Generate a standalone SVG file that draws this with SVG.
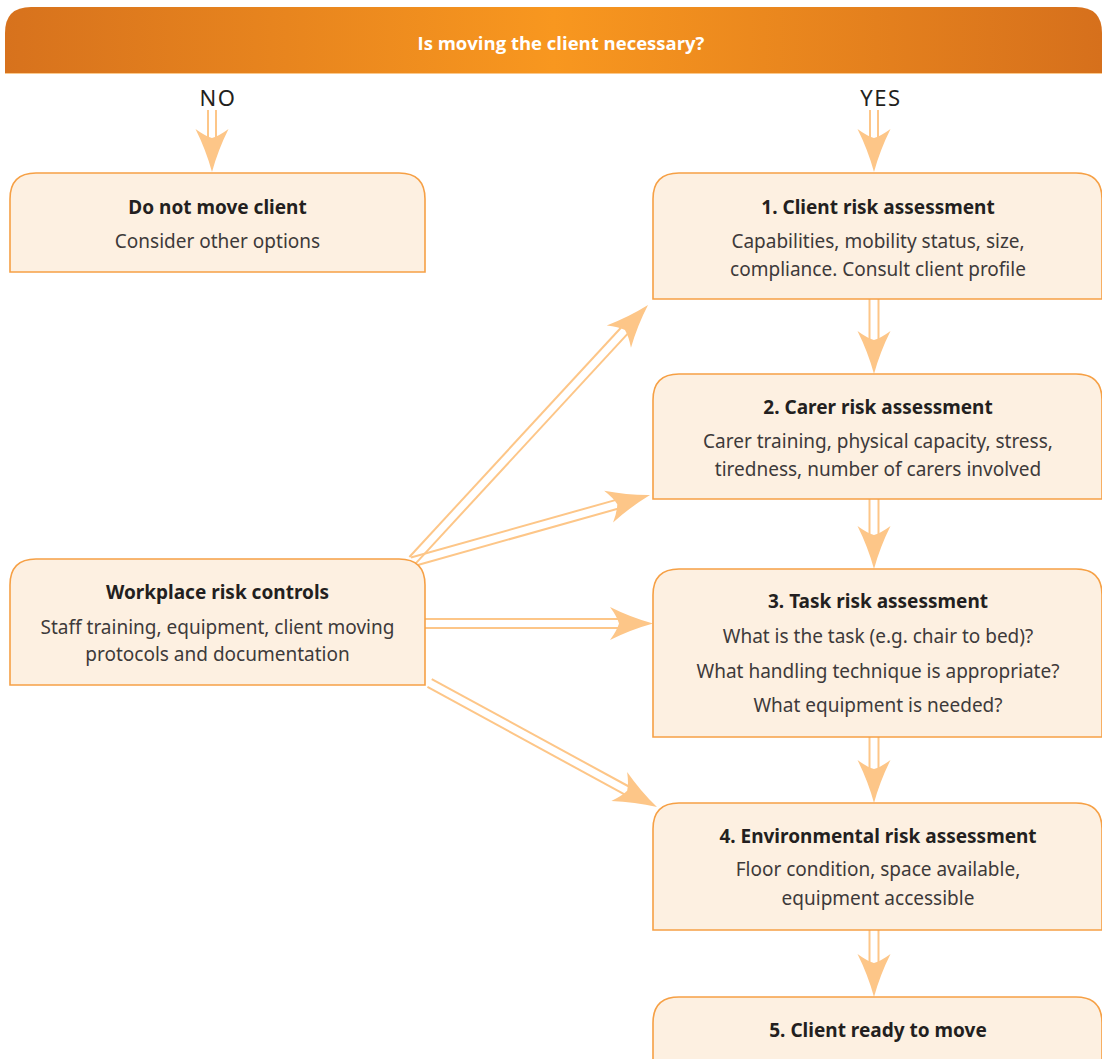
<svg xmlns="http://www.w3.org/2000/svg" xmlns:xlink="http://www.w3.org/1999/xlink" width="1102" height="1059" viewBox="0 0 1102 1059">
  <defs>
    <linearGradient id="hdrGrad" x1="0" y1="0" x2="1" y2="0">
      <stop offset="0" stop-color="#d7721d"/>
      <stop offset="0.5" stop-color="#f8971f"/>
      <stop offset="1" stop-color="#d6701c"/>
    </linearGradient>
    <!-- arrowhead: tip at origin, pointing along +x -->
    <path id="head" d="M0,0 Q-22,-6 -43,-16.5 Q-36,-7 -34,0 Q-36,7 -43,16.5 Q-22,6 0,0 Z" fill="#fdc688"/>
    <style>
      .box { fill: #fdf0e1; stroke: #f6a045; stroke-width: 1.6; }
      .title { font-family: "Noto Sans", "Open Sans", sans-serif; font-weight: 700; font-size: 19px; fill: #231f20; text-anchor: middle; }
      .body { font-family: "Noto Sans", "Open Sans", sans-serif; font-weight: 400; font-size: 19px; fill: #3d3a3a; text-anchor: middle; }
      .lbl { font-family: "Noto Sans", "Open Sans", sans-serif; font-size: 22px; letter-spacing: 1.5px; fill: #231f20; text-anchor: middle; }
      .hdr { font-family: "Open Sans", "Noto Sans", sans-serif; font-weight: 700; font-size: 18.5px; fill: #ffffff; text-anchor: middle; }
      .rail { stroke: #fdc688; stroke-width: 2; fill: none; }
    </style>
  </defs>

  <rect width="1102" height="1059" fill="#ffffff"/>

  <!-- question banner -->
  <g id="question">
    <path d="M5,73 L5,33 Q5,7 31,7 L1076,7 Q1102,7 1102,33 L1102,73 Z" fill="url(#hdrGrad)"/>
    <line x1="5" y1="73.5" x2="1102" y2="73.5" stroke="#fbc98c" stroke-width="1.2"/>
    <text class="hdr" x="561" y="50">Is moving the client necessary?</text>
  </g>

  <g id="label-no"><text class="lbl" x="218" y="106">NO</text></g>
  <g id="label-yes"><text class="lbl" x="881" y="106">YES</text></g>

  <!-- connectors: double rails ending in a filled arrowhead -->
  <g id="connectors">
    <!-- NO -> Do not move client -->
    <line class="rail" x1="208" y1="110" x2="208" y2="140"/>
    <line class="rail" x1="216" y1="110" x2="216" y2="140"/>
    <use xlink:href="#head" transform="translate(212,172) rotate(90)"/>
    <!-- YES -> 1 -->
    <line class="rail" x1="870" y1="110" x2="870" y2="140"/>
    <line class="rail" x1="878" y1="110" x2="878" y2="140"/>
    <use xlink:href="#head" transform="translate(874,172) rotate(90)"/>
    <!-- 1 -> 2 -->
    <line class="rail" x1="869.5" y1="299" x2="869.5" y2="342"/>
    <line class="rail" x1="878.5" y1="299" x2="878.5" y2="342"/>
    <use xlink:href="#head" transform="translate(874,374) rotate(90)"/>
    <!-- 2 -> 3 -->
    <line class="rail" x1="869.5" y1="499" x2="869.5" y2="537"/>
    <line class="rail" x1="878.5" y1="499" x2="878.5" y2="537"/>
    <use xlink:href="#head" transform="translate(874,569) rotate(90)"/>
    <!-- 3 -> 4 -->
    <line class="rail" x1="869.5" y1="737" x2="869.5" y2="771"/>
    <line class="rail" x1="878.5" y1="737" x2="878.5" y2="771"/>
    <use xlink:href="#head" transform="translate(874,803) rotate(90)"/>
    <!-- 4 -> 5 -->
    <line class="rail" x1="869.5" y1="930" x2="869.5" y2="965"/>
    <line class="rail" x1="878.5" y1="930" x2="878.5" y2="965"/>
    <use xlink:href="#head" transform="translate(874,997) rotate(90)"/>

    <!-- Workplace -> 1 -->
    <g transform="translate(648,305) rotate(-47.3)">
      <line class="rail" x1="-347" y1="-4.5" x2="-33" y2="-4.5"/>
      <line class="rail" x1="-347" y1="4.5" x2="-33" y2="4.5"/>
      <use xlink:href="#head"/>
    </g>
    <!-- Workplace -> 2 -->
    <g transform="translate(650,495) rotate(-15.7)">
      <line class="rail" x1="-247" y1="-4.5" x2="-33" y2="-4.5"/>
      <line class="rail" x1="-247" y1="4.5" x2="-33" y2="4.5"/>
      <use xlink:href="#head"/>
    </g>
    <!-- Workplace -> 3 -->
    <g transform="translate(653,623.5)">
      <line class="rail" x1="-228" y1="-4.5" x2="-33" y2="-4.5"/>
      <line class="rail" x1="-228" y1="4.5" x2="-33" y2="4.5"/>
      <use xlink:href="#head"/>
    </g>
    <!-- Workplace -> 4 -->
    <g transform="translate(657,807) rotate(28.6)">
      <line class="rail" x1="-259" y1="-4.5" x2="-33" y2="-4.5"/>
      <line class="rail" x1="-259" y1="4.5" x2="-33" y2="4.5"/>
      <use xlink:href="#head"/>
    </g>
  </g>

  <!-- Left column -->
  <g id="do-not-move">
    <path class="box" d="M10,272 L10,199 Q10,173 36,173 L399,173 Q425,173 425,199 L425,272 Z"/>
    <text class="title" x="217.5" y="214">Do not move client</text>
    <text class="body" x="217.5" y="248">Consider other options</text>
  </g>

  <g id="workplace-controls">
    <path class="box" d="M10,685 L10,585 Q10,559 36,559 L399,559 Q425,559 425,585 L425,685 Z"/>
    <text class="title" x="217.5" y="599">Workplace risk controls</text>
    <text class="body" x="217.5" y="634">Staff training, equipment, client moving</text>
    <text class="body" x="217.5" y="661">protocols and documentation</text>
  </g>

  <!-- Right column -->
  <g id="step-1">
    <path class="box" d="M653,299 L653,199 Q653,173 679,173 L1076,173 Q1102,173 1102,199 L1102,299 Z"/>
    <text class="title" x="878" y="214">1. Client risk assessment</text>
    <text class="body" x="878" y="248">Capabilities, mobility status, size,</text>
    <text class="body" x="878" y="276">compliance. Consult client profile</text>
  </g>

  <g id="step-2">
    <path class="box" d="M653,499 L653,400 Q653,374 679,374 L1076,374 Q1102,374 1102,400 L1102,499 Z"/>
    <text class="title" x="878" y="414">2. Carer risk assessment</text>
    <text class="body" x="878" y="448">Carer training, physical capacity, stress,</text>
    <text class="body" x="878" y="476">tiredness, number of carers involved</text>
  </g>

  <g id="step-3">
    <path class="box" d="M653,737 L653,595 Q653,569 679,569 L1076,569 Q1102,569 1102,595 L1102,737 Z"/>
    <text class="title" x="878" y="608">3. Task risk assessment</text>
    <text class="body" x="878" y="643">What is the task (e.g. chair to bed)?</text>
    <text class="body" x="878" y="678">What handling technique is appropriate?</text>
    <text class="body" x="878" y="712">What equipment is needed?</text>
  </g>

  <g id="step-4">
    <path class="box" d="M653,930 L653,829 Q653,803 679,803 L1076,803 Q1102,803 1102,829 L1102,930 Z"/>
    <text class="title" x="878" y="843">4. Environmental risk assessment</text>
    <text class="body" x="878" y="876">Floor condition, space available,</text>
    <text class="body" x="878" y="905">equipment accessible</text>
  </g>

  <g id="step-5">
    <path class="box" d="M653,1070 L653,1023 Q653,997 679,997 L1076,997 Q1102,997 1102,1023 L1102,1070 Z"/>
    <text class="title" x="878" y="1037">5. Client ready to move</text>
  </g>
</svg>
